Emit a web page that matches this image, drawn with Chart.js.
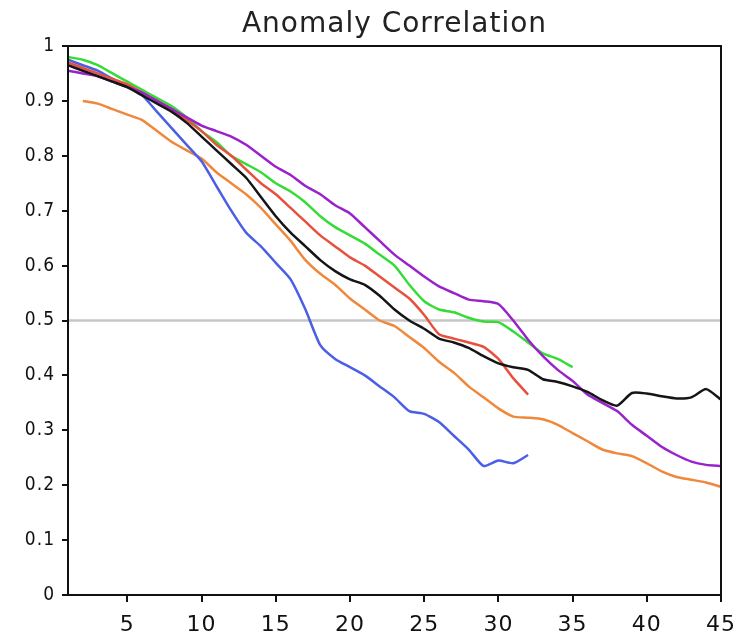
<!DOCTYPE html>
<html>
<head>
<meta charset="utf-8">
<script src="https://cdn.jsdelivr.net/npm/chart.js@4"></script>
<style>
  html, body { margin: 0; padding: 0; background: #fff; }
  #wrap { width: 745px; height: 636px; }
</style>
</head>
<body>
<div id="wrap"><canvas id="chart"></canvas></div>
<script>
// lead days and tick labels
const days = Array.from({ length: 45 }, (_, i) => i + 1);
const xTicks = [5, 10, 15, 20, 25, 30, 35, 40, 45];
const refLevel = 0.5;

// anomaly correlation per series (starting at day 1, orange starts at day 2)
const blueVals = [0.975, 0.965, 0.955, 0.94, 0.925, 0.91, 0.88, 0.85, 0.82, 0.79,
  0.745, 0.70, 0.66, 0.635, 0.605, 0.575, 0.52, 0.455, 0.43, 0.415,
  0.40, 0.38, 0.36, 0.335, 0.33, 0.315, 0.29, 0.265, 0.235, 0.245,
  0.24, 0.255];
const orangeVals = [null, 0.90, 0.895, 0.885, 0.875, 0.865, 0.845, 0.825, 0.81, 0.795,
  0.77, 0.75, 0.73, 0.705, 0.675, 0.645, 0.61, 0.585, 0.565, 0.54,
  0.52, 0.50, 0.49, 0.47, 0.45, 0.425, 0.405, 0.38, 0.36, 0.34,
  0.325, 0.323, 0.32, 0.31, 0.295, 0.28, 0.265, 0.258, 0.253, 0.24,
  0.225, 0.215, 0.21, 0.205, 0.197];
const greenVals = [0.98, 0.975, 0.965, 0.95, 0.935, 0.92, 0.905, 0.89, 0.87, 0.845,
  0.825, 0.80, 0.785, 0.77, 0.75, 0.735, 0.715, 0.69, 0.67, 0.655,
  0.64, 0.62, 0.60, 0.565, 0.535, 0.52, 0.515, 0.505, 0.498, 0.497,
  0.48, 0.46, 0.44, 0.43, 0.415];
const redVals = [0.97, 0.96, 0.95, 0.94, 0.93, 0.915, 0.90, 0.885, 0.865, 0.845,
  0.82, 0.80, 0.775, 0.75, 0.73, 0.705, 0.68, 0.655, 0.635, 0.615,
  0.60, 0.58, 0.56, 0.54, 0.51, 0.475, 0.467, 0.46, 0.452, 0.43,
  0.395, 0.365];
const blackVals = [0.965, 0.955, 0.945, 0.935, 0.925, 0.91, 0.895, 0.88, 0.86, 0.835,
  0.81, 0.785, 0.76, 0.725, 0.69, 0.66, 0.635, 0.61, 0.59, 0.575,
  0.565, 0.545, 0.52, 0.50, 0.485, 0.467, 0.46, 0.45, 0.435, 0.422,
  0.415, 0.41, 0.393, 0.388, 0.38, 0.37, 0.355, 0.345, 0.368, 0.367,
  0.362, 0.358, 0.36, 0.375, 0.356];
const purpleVals = [0.955, 0.95, 0.945, 0.935, 0.925, 0.915, 0.90, 0.885, 0.87, 0.855,
  0.845, 0.835, 0.82, 0.80, 0.78, 0.765, 0.745, 0.73, 0.71, 0.695,
  0.67, 0.645, 0.62, 0.60, 0.58, 0.562, 0.55, 0.538, 0.535, 0.53,
  0.50, 0.465, 0.435, 0.41, 0.39, 0.365, 0.35, 0.335, 0.31, 0.29,
  0.27, 0.255, 0.243, 0.237, 0.235];

function toPoints(vals) {
  return vals.map((v, i) => ({ x: days[i], y: v }));
}

function series(vals, color, order) {
  return {
    data: toPoints(vals),
    borderColor: color,
    borderWidth: 2.5,
    pointRadius: 0,
    tension: 0.2,
    fill: false,
    spanGaps: false,
    order: order
  };
}

// slightly wider text, and the top/right sides of the axes box
const frame = {
  id: 'frame',
  beforeDraw(chart) {
    chart.ctx.letterSpacing = '1px';
  },
  afterDraw(chart) {
    const a = chart.chartArea;
    const ctx = chart.ctx;
    ctx.save();
    ctx.strokeStyle = '#111';
    ctx.lineWidth = 2;
    ctx.strokeRect(a.left, a.top, a.right - a.left, a.bottom - a.top);
    ctx.restore();
    ctx.letterSpacing = '0px';
  }
};

new Chart(document.getElementById('chart'), {
  type: 'line',
  data: {
    datasets: [
      {
        data: [{ x: days[0], y: refLevel }, { x: days[days.length - 1], y: refLevel }],
        borderColor: '#c6c6c6',
        borderWidth: 2.5,
        pointRadius: 0,
        order: 10
      },
      series(orangeVals, '#f0883c', 6),
      series(blueVals, '#4a5ee6', 5),
      series(greenVals, '#36dc36', 4),
      series(redVals, '#e8503e', 3),
      series(purpleVals, '#9a22cc', 2),
      series(blackVals, '#151515', 1)
    ]
  },
  options: {
    responsive: true,
    maintainAspectRatio: false,
    animation: false,
    layout: { padding: { left: 0, right: 23, top: 0, bottom: 0 } },
    plugins: {
      legend: { display: false },
      tooltip: { enabled: false },
      title: {
        display: true,
        fullSize: false, // centre over the plot area, not the canvas
        text: 'Anomaly Correlation',
        color: '#222',
        font: { family: '"DejaVu Sans", sans-serif', size: 28, weight: 'normal' },
        padding: { top: 8, bottom: 4.4 }
      }
    },
    scales: {
      x: {
        type: 'linear',
        min: 1,
        max: 45,
        afterBuildTicks(scale) {
          scale.ticks = xTicks.map(v => ({ value: v }));
        },
        afterFit(scale) { scale.height = 41; },
        grid: { drawOnChartArea: false, drawTicks: true, tickLength: 7, color: '#111', lineWidth: 2 },
        border: { display: true, color: '#111', width: 2 },
        ticks: {
          color: '#111',
          font: { family: '"DejaVu Sans", sans-serif', size: 22 },
          padding: 10,
          maxRotation: 0
        }
      },
      y: {
        min: 0,
        max: 1,
        afterFit(scale) { scale.width = 68; },
        grid: { drawOnChartArea: false, drawTicks: true, tickLength: 6, color: '#111', lineWidth: 2 },
        border: { display: true, color: '#111', width: 2 },
        ticks: {
          stepSize: 0.1,
          color: '#111',
          font: { family: '"DejaVu Sans Condensed", "DejaVu Sans", sans-serif', size: 19 },
          padding: 7,
          callback(v) {
            const r = Math.round(v * 10) / 10;
            return (r === 0 || r === 1) ? String(r) : r.toFixed(1);
          }
        }
      }
    }
  },
  plugins: [frame]
});
</script>
</body>
</html>
